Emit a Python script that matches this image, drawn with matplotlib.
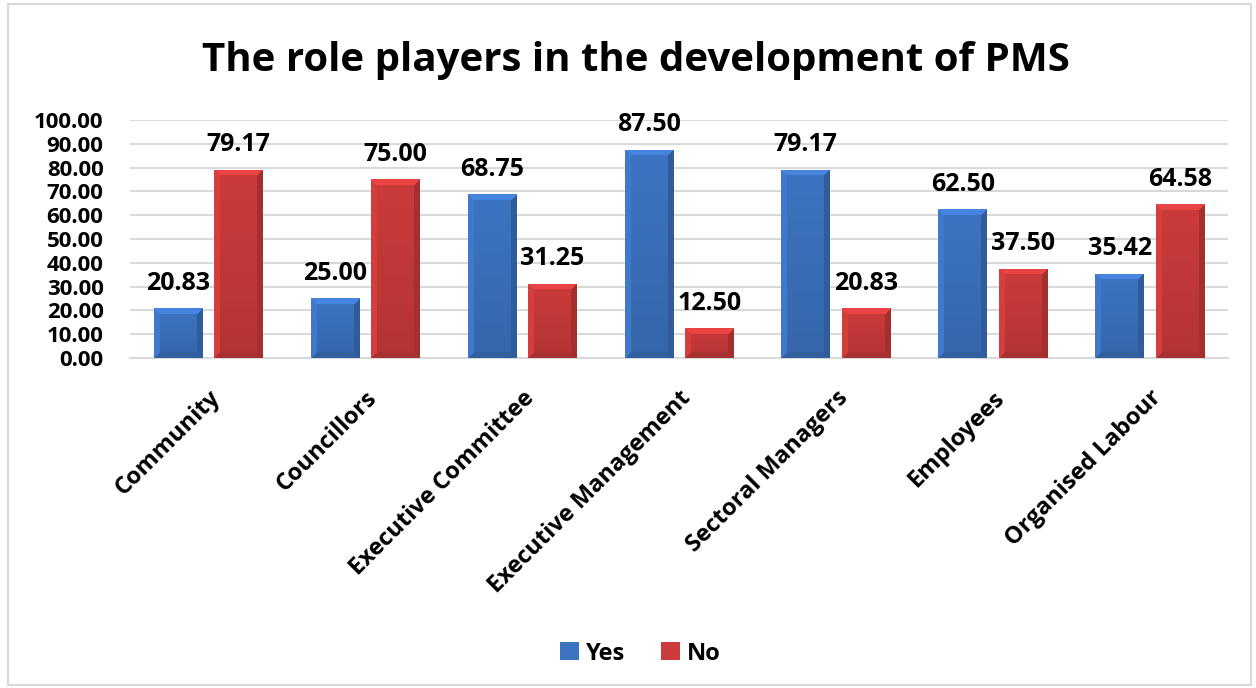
import matplotlib.pyplot as plt
import numpy as np
from matplotlib.colors import to_rgb
from matplotlib.patches import Rectangle

categories = ['Community', 'Councillors', 'Executive Committee', 'Executive Management',
              'Sectoral Managers', 'Employees', 'Organised Labour']
yes_vals = [20.83, 25.00, 68.75, 87.50, 79.17, 62.50, 35.42]
no_vals = [79.17, 75.00, 31.25, 12.50, 20.83, 37.50, 64.58]

plt.rcParams['font.family'] = ['Open Sans', 'DejaVu Sans']
plt.rcParams['font.weight'] = 'bold'

fig = plt.figure(figsize=(12.56, 6.88), dpi=100)
ax = fig.add_axes([0.1035, 0.4797, 0.8745, 0.3459])

# light frame round the whole chart
fig.patches.append(Rectangle((0.006, 0.004), 0.99, 0.99, transform=fig.transFigure,
                             fill=False, edgecolor='#d9d9d9', linewidth=1.5))

x = np.arange(len(categories))
w = 0.31
gap = 0.038
b1 = ax.bar(x - w / 2 - gap, yes_vals, w, color='#3d74c2', edgecolor='none',
            label='Yes', zorder=3)
b2 = ax.bar(x + w / 2 + gap, no_vals, w, color='#cc3b3b', edgecolor='none',
            label='No', zorder=3)
ax.set_xlim(-0.5, len(categories) - 0.5)
ax.set_ylim(0, 100)


def bevel(bar, base):
    # shaded image clipped to the bar, to get the bevelled look
    x0, w_, h = bar.get_x(), bar.get_width(), bar.get_height()
    p0 = ax.transData.transform((x0, 0))
    p1 = ax.transData.transform((x0 + w_, h))
    nx = max(int(round(p1[0] - p0[0])), 2)
    ny = max(int(round(p1[1] - p0[1])), 2)
    ii, jj = np.mgrid[0:ny, 0:nx]
    top, bot, left, right = ii, ny - 1 - ii, jj, nx - 1 - jj
    d = np.minimum(np.minimum(top, bot), np.minimum(left, right))
    f = 1.0 - 0.12 * ii / ny
    b = 6
    f = np.where((d < b) & (d == top), 1.15, f)
    f = np.where((d < b) & (d == left) & (d != top), 1.05, f)
    f = np.where((d < b) & (d == right) & (d != top), 0.8, f)
    f = np.where((d < b) & (d == bot) & (d != top) & (d != left) & (d != right), 0.82, f)
    rgb = np.clip(np.array(to_rgb(base))[None, None, :] * f[:, :, None], 0, 1)
    im = ax.imshow(rgb, extent=[x0, x0 + w_, 0, h], origin='upper', aspect='auto',
                   zorder=3.5, interpolation='nearest')
    im.set_clip_path(bar)


for bars, col in [(b1, '#3d74c2'), (b2, '#cc3b3b')]:
    for bar in bars:
        bevel(bar, col)

for bars, vals in [(b1, yes_vals), (b2, no_vals)]:
    for bar, v in zip(bars, vals):
        ax.annotate(f'{v:.2f}', (bar.get_x() + bar.get_width() / 2, v),
                    xytext=(0, 9), textcoords='offset points', ha='center', va='bottom',
                    fontsize=18, fontweight='bold')

ax.set_xlim(-0.5, len(categories) - 0.5)
ax.set_ylim(0, 100)
ax.set_yticks(np.arange(0, 101, 10))
ax.set_yticklabels([f'{t:.2f}' for t in np.arange(0, 101, 10)], fontsize=16, fontweight='bold')
ax.set_xticks(x)
ax.set_xticklabels(categories, rotation=45, ha='right', rotation_mode='anchor',
                   fontsize=17, fontweight='bold')
ax.tick_params(axis='y', length=0, pad=19)
ax.tick_params(axis='x', length=0, pad=20)
ax.grid(axis='y', color='#d9d9d9', linewidth=1.5, zorder=0)
for s in ['top', 'right', 'left']:
    ax.spines[s].set_visible(False)
ax.spines['bottom'].set_color('#d9d9d9')
ax.spines['bottom'].set_linewidth(1.5)

fig.suptitle('The role players in the development of PMS', fontsize=29, fontweight='bold',
             x=0.506, y=0.94)

fig.legend(handles=[b1, b2], labels=['Yes', 'No'], loc='center', bbox_to_anchor=(0.51, 0.05),
           ncol=2, frameon=False, handlelength=0.8, handleheight=0.8,
           handletextpad=0.3, columnspacing=1.5, prop={'weight': 'bold', 'size': 17})

fig.savefig('out.png', dpi=100)
